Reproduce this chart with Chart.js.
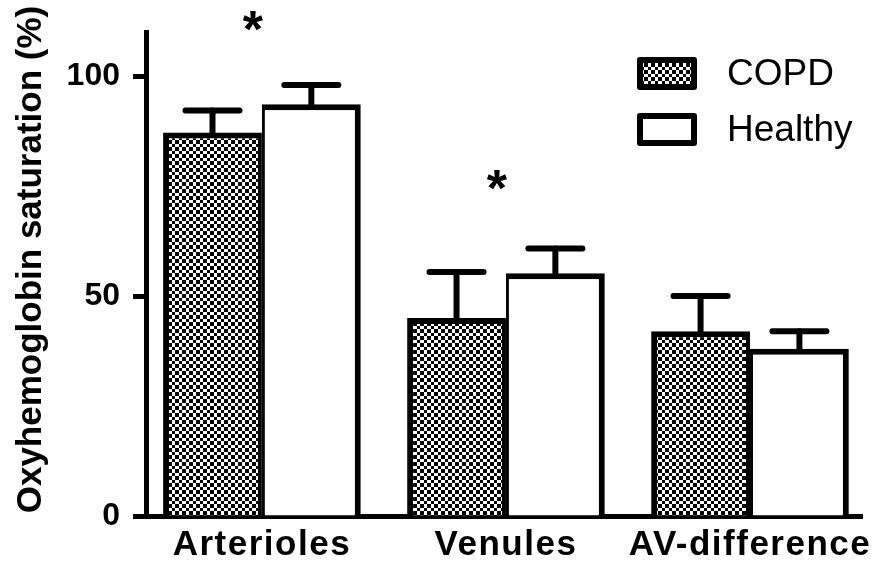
<!DOCTYPE html>
<html>
<head>
<meta charset="utf-8">
<script src="https://cdn.jsdelivr.net/npm/chart.js@4"></script>
<style>
  html, body { margin: 0; padding: 0; background: #fff; }
  #wrap { width: 880px; height: 565px; }
</style>
</head>
<body>
<div id="wrap"><canvas id="chart" width="880" height="565"></canvas></div>
<script>
// data
const categories = ['Arterioles', 'Venules', 'AV-difference'];
const copdValues = [87.2, 45.0, 42.0];
const copdErrors = [5.0, 10.5, 8.0];
const healthyValues = [93.6, 55.2, 38.0];
const healthyErrors = [4.4, 5.6, 4.0];
const yTicks = [0, 50, 100];
const sigIndex = [0, 1];         // categories marked with *
const sigLevel = [113.5, 77.3];  // height of the * in y units

function makeChecker() {
    const c = document.createElement('canvas');
    c.width = 7;
    c.height = 7;
    const g = c.getContext('2d');
    g.fillStyle = '#fff';
    g.fillRect(0, 0, 7, 7);
    g.fillStyle = '#000';
    g.fillRect(0, 0, 4, 4);
    g.fillRect(4, 4, 3, 3);
    return g.createPattern(c, 'repeat');
}

document.addEventListener('DOMContentLoaded', () => {
    const ctx = document.getElementById('chart').getContext('2d');
    const checker = makeChecker();
    const errors = [copdErrors, healthyErrors];

    // the original labels are a little wider than Arial, so space them out
    const wideLabels = {
        id: 'wideLabels',
        afterLayout(chart) {
            const xs = chart.scales.x;
            if (xs._wide) return;
            const orig = xs.drawLabels.bind(xs);
            xs.drawLabels = (area) => {
                chart.ctx.save();
                chart.ctx.letterSpacing = '1.5px';
                orig(area);
                chart.ctx.restore();
            };
            xs._wide = true;
        }
    };

    const errorBars = {
        id: 'errorBars',
        afterDatasetsDraw(chart) {
            const c = chart.ctx;
            const y = chart.scales.y;
            c.save();
            c.strokeStyle = '#000';
            c.lineWidth = 6;
            c.lineCap = 'round';
            chart.data.datasets.forEach((ds, i) => {
                chart.getDatasetMeta(i).data.forEach((bar, j) => {
                    const top = y.getPixelForValue(ds.data[j].y + errors[i][j]);
                    c.beginPath();
                    c.moveTo(bar.x, bar.y);
                    c.lineTo(bar.x, top);
                    c.stroke();
                    c.beginPath();
                    c.moveTo(bar.x - 27, top);
                    c.lineTo(bar.x + 27, top);
                    c.stroke();
                });
            });
            c.restore();
        }
    };

    const extras = {
        id: 'extras',
        afterDraw(chart) {
            const c = chart.ctx;
            const xs = chart.scales.x, ys = chart.scales.y;
            c.save();
            // asterisks
            c.fillStyle = '#000';
            c.font = 'bold 52px "Liberation Sans", Arial, sans-serif';
            c.textAlign = 'center';
            c.textBaseline = 'alphabetic';
            sigIndex.forEach((idx, k) => {
                c.fillText('*', xs.getPixelForValue(idx) - 9, ys.getPixelForValue(sigLevel[k]) + 30);
            });
            // legend
            const items = [['COPD', checker], ['Healthy', '#fff']];
            c.font = '37px "Liberation Sans", Arial, sans-serif';
            c.textAlign = 'left';
            c.textBaseline = 'middle';
            c.lineWidth = 6;
            c.lineJoin = 'round';
            items.forEach((it, k) => {
                const by = 60 + k * 56;
                c.fillStyle = it[1];
                c.fillRect(640, by, 54, 27);
                c.strokeStyle = '#000';
                c.strokeRect(640, by, 54, 27);
                c.fillStyle = '#000';
                c.fillText(it[0], 727, by + 15);
            });
            c.restore();
        }
    };

    new Chart(ctx, {
        type: 'bar',
        data: {
            datasets: [{
                label: 'COPD',
                data: copdValues.map((v, i) => ({ x: i, y: v })),
                backgroundColor: checker,
                borderColor: '#000',
                borderWidth: { top: 6, left: 6, right: 4, bottom: 0 },
                borderSkipped: false
            }, {
                label: 'Healthy',
                data: healthyValues.map((v, i) => ({ x: i, y: v })),
                backgroundColor: '#fff',
                borderColor: '#000',
                borderWidth: { top: 6, left: 3, right: 6, bottom: 0 },
                borderSkipped: false
            }]
        },
        options: {
            responsive: false,
            animation: false,
            events: [],
            categoryPercentage: 0.81,
            barPercentage: 1.0,
            layout: { padding: { top: 31, right: 18, left: 0, bottom: 0 } },
            plugins: { legend: { display: false }, tooltip: { enabled: false } },
            scales: {
                x: {
                    type: 'linear',
                    offset: false,
                    min: -0.475,
                    max: 2.459,
                    afterFit: (s) => { s.height = 49; },
                    grid: { display: false },
                    border: { display: true, color: '#000', width: 5 },
                    ticks: {
                        stepSize: 1,
                        includeBounds: false,
                        autoSkip: false,
                        maxRotation: 0,
                        padding: 0,
                        color: '#000',
                        font: { family: '"Liberation Sans", Arial, sans-serif', size: 35, weight: 'bold' },
                        callback: (v) => categories[v] ?? ''
                    }
                },
                y: {
                    min: 0,
                    max: 110,
                    afterFit: (s) => { s.width = 146; },
                    afterBuildTicks: (s) => { s.ticks = yTicks.map(v => ({ value: v })); },
                    grid: { display: true, drawOnChartArea: false, drawTicks: true, tickLength: 13, tickWidth: 5, tickColor: '#000' },
                    border: { display: true, color: '#000', width: 5 },
                    ticks: {
                        padding: 13,
                        color: '#000',
                        font: { family: '"Liberation Sans", Arial, sans-serif', size: 32, weight: 'bold' }
                    },
                    title: {
                        display: true,
                        text: '   Oxyhemoglobin saturation (%)',
                        color: '#000',
                        padding: { top: 10, bottom: 0 },
                        font: { family: '"Liberation Sans", Arial, sans-serif', size: 35, weight: 'bold' }
                    }
                }
            }
        },
        plugins: [wideLabels, errorBars, extras]
    });
});
</script>
</body>
</html>
